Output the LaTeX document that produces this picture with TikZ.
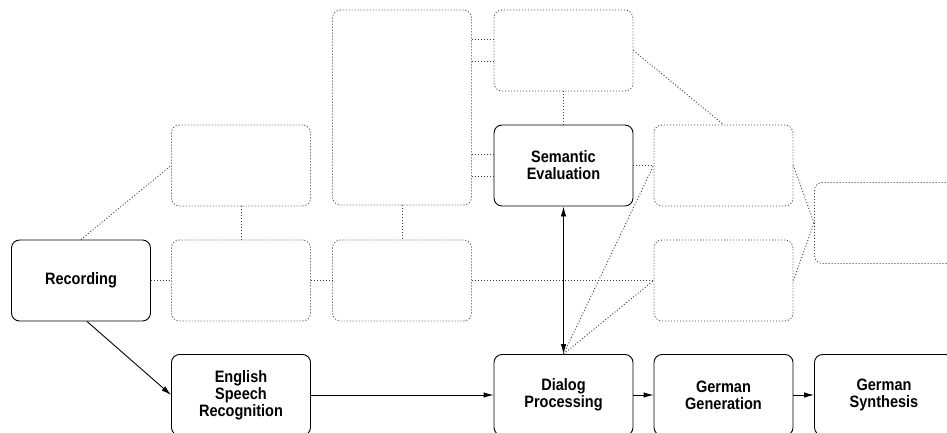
\documentclass[tikz,border=0pt]{standalone}
\usepackage{fontspec}
\setmainfont{Liberation Sans}[FakeStretch=0.88]
\usetikzlibrary{arrows.meta}
\begin{document}
\begin{tikzpicture}[x=1pt,y=-1pt,
  box/.style={draw, rounded corners=8pt, minimum width=139pt, minimum height=81pt,
    line width=0.9pt, inner sep=0pt, align=center,
    font=\bfseries\fontsize{16.5}{17}\selectfont},
  ghost/.style={draw=black!75, dash pattern=on 1pt off 2pt, rounded corners=8pt,
    minimum width=139pt, minimum height=81pt, inner sep=0pt, line width=0.9pt},
  link/.style={draw=black!75, dash pattern=on 1pt off 2pt, line width=0.9pt},
  flow/.style={draw, line width=0.9pt, -{Latex[length=10pt,width=5.5pt]}},
  both/.style={draw, line width=0.9pt, {Latex[length=10pt,width=5.5pt]}-{Latex[length=10pt,width=5.5pt]}}]
\useasboundingbox (0,0) rectangle (947,433);
\clip (0,0) rectangle (947,433);

% empty modules
\node[ghost] (g1) at (241,165.5) {};
\node[ghost] (g2) at (241,280.5) {};
\node[ghost] (g3) at (402,280.5) {};
\node[ghost, minimum height=195pt] (tall) at (402,107.5) {};
\node[ghost] (top) at (563.5,50.5) {};
\node[ghost] (r1) at (723.5,165.5) {};
\node[ghost] (r2) at (723.5,280.5) {};
\node[ghost] (far) at (884,223) {};

% named modules
\node[box] (rec) at (81,280.5) {Recording};
\node[box] (esr) at (241,395) {English\\Speech\\Recognition};
\node[box] (sem) at (563.5,165.5) {Semantic\\Evaluation};
\node[box] (dia) at (563.5,395) {Dialog\\Processing};
\node[box] (gg) at (723.5,395) {German\\Generation};
\node[box] (gs) at (884,395) {German\\Synthesis};

% dotted links
\draw[link] (rec.north) -- (g1.west);
\draw[link] (rec.east) -- (g2.west);
\draw[link] (g1.south) -- (g2.north);
\draw[link] (g2.east) -- (g3.west);
\draw[link] (tall.south) -- (g3.north);
\draw[link] ([yshift=11pt]top.west) -- ([yshift=11pt]top.west -| tall.east);
\draw[link] ([yshift=-11pt]top.west) -- ([yshift=-11pt]top.west -| tall.east);
\draw[link] ([yshift=11pt]sem.west) -- ([yshift=11pt]sem.west -| tall.east);
\draw[link] ([yshift=-11pt]sem.west) -- ([yshift=-11pt]sem.west -| tall.east);
\draw[link] (top.south) -- (sem.north);
\draw[link] (top.east) -- (r1.north);
\draw[link] (sem.east) -- (r1.west);
\draw[link] (r1.east) -- (far.west);
\draw[link] (r2.east) -- (far.west);
\draw[link] (g3.east) -- (r2.west);
\draw[link] (dia.north) -- (r1.west);
\draw[link] (dia.north) -- (r2.west);

% data flow
\draw[both] (sem.south) -- (dia.north);
\draw[flow] ([xshift=6pt]rec.south) -- (esr.west);
\draw[flow] (esr.east) -- (dia.west);
\draw[flow] (dia.east) -- (gg.west);
\draw[flow] (gg.east) -- (gs.west);
\end{tikzpicture}
\end{document}
